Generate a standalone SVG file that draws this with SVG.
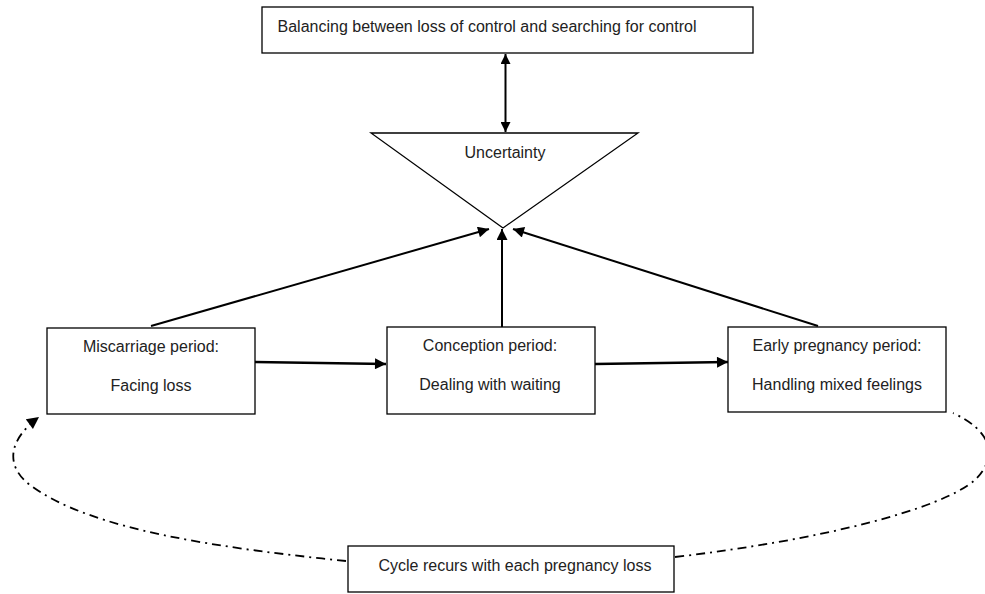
<svg xmlns="http://www.w3.org/2000/svg" width="985" height="594" viewBox="0 0 985 594">
<style>
.box{fill:#fff;stroke:#000;stroke-width:1.3}
.t{font-family:"Liberation Sans",Arial,sans-serif;font-size:16px;fill:#222;text-anchor:middle}
.ln{stroke:#000;stroke-width:2;fill:none}
.hv{stroke:#000;stroke-width:2.6;fill:none}
.dd{stroke:#000;stroke-width:1.8;fill:none;stroke-dasharray:9 5 2 5}
</style>
<defs>
<marker id="ah" viewBox="0 0 10 10" refX="10" refY="5" markerWidth="12" markerHeight="10" markerUnits="userSpaceOnUse" orient="auto-start-reverse">
<path d="M0,0 L10,5 L0,10 z" fill="#000"/>
</marker>
<marker id="ahs" viewBox="0 0 10 10" refX="10" refY="5" markerWidth="14" markerHeight="11" markerUnits="userSpaceOnUse" orient="auto">
<path d="M0,0 L10,5 L0,10 z" fill="#000"/>
</marker>
<marker id="ahd" viewBox="0 0 10 10" refX="10" refY="5" markerWidth="14" markerHeight="12" markerUnits="userSpaceOnUse" orient="auto">
<path d="M0,0 L10,5 L0,10 z" fill="#000"/>
</marker>
</defs>
<rect width="985" height="594" fill="#fff"/>
<g id="connectors">
<line class="ln" x1="505.5" y1="54" x2="505.5" y2="132" marker-start="url(#ah)" marker-end="url(#ah)"/>
<line class="ln" x1="151" y1="326" x2="489" y2="229" marker-end="url(#ahs)"/>
<line class="ln" x1="502" y1="327" x2="502" y2="229" marker-end="url(#ahs)"/>
<line class="ln" x1="818" y1="326" x2="513" y2="229" marker-end="url(#ahs)"/>
<line class="hv" x1="255" y1="362" x2="386" y2="364" marker-end="url(#ahs)"/>
<line class="hv" x1="595" y1="364" x2="728" y2="362" marker-end="url(#ahs)"/>
<path class="dd" d="M346,561 C220,548 90,530 30,485 C5,466 8,440 39,417" marker-end="url(#ahd)"/>
<path class="dd" d="M675,557 C820,540 940,510 975,480 C1000,455 990,430 953,413"/>
</g>
<g id="top">
<rect class="box" x="262" y="7" width="491" height="46"/>
<text class="t" x="487" y="32">Balancing between loss of control and searching for control</text>
</g>
<g id="uncertainty">
<polygon points="371,133 638,133 503,228" fill="#fff" stroke="#000" stroke-width="1.3"/>
<text class="t" x="505" y="158">Uncertainty</text>
</g>
<g id="miscarriage">
<rect class="box" x="47" y="328" width="208" height="86"/>
<text class="t" x="151" y="352">Miscarriage period:</text>
<text class="t" x="151" y="391">Facing loss</text>
</g>
<g id="conception">
<rect class="box" x="387" y="327" width="208" height="87"/>
<text class="t" x="490" y="351">Conception period:</text>
<text class="t" x="490" y="390">Dealing with waiting</text>
</g>
<g id="early">
<rect class="box" x="728" y="327" width="218" height="85"/>
<text class="t" x="837" y="351">Early pregnancy period:</text>
<text class="t" x="837" y="390">Handling mixed feelings</text>
</g>
<g id="cycle">
<rect class="box" x="348" y="546" width="326" height="46"/>
<text class="t" x="515" y="571">Cycle recurs with each pregnancy loss</text>
</g>
</svg>
